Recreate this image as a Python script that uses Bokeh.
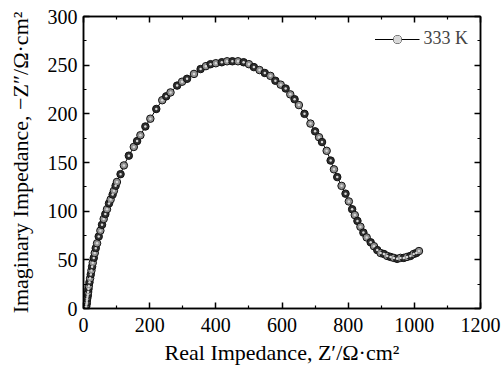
from bokeh.plotting import figure
from bokeh.models import (LinearAxis, Range1d, Legend, LegendItem, ColumnDataSource,
                          FixedTicker, CustomJSTickFormatter)
from bokeh.embed import file_html
from bokeh.resources import INLINE

# ---- data (Nyquist plot, 333 K) ----
z_real = [8, 9, 10, 10, 11, 12, 13, 14, 15, 16, 18, 20, 22, 24, 26, 28, 31, 34, 37, 41,
          46, 51, 56, 61, 66, 71, 77, 82, 88, 92, 97, 101, 112, 122, 137, 152, 162, 172,
          187, 202, 220, 238, 250, 263, 283, 298, 313, 334, 354, 370, 384, 400, 418, 434,
          450, 467, 484, 500, 515, 532, 548, 565, 580, 596, 611, 625, 638, 651, 668, 686,
          700, 712, 721, 735, 747, 757, 767, 780, 792, 802, 812, 820, 828, 837, 846, 856,
          868, 878, 888, 898, 908, 918, 928, 938, 948, 958, 968, 978, 988, 998, 1006, 1014]
z_imag = [2, 4, 6, 8, 10, 12, 14, 17, 20, 23, 27, 31, 35, 39, 43, 47, 52, 57, 62, 67,
          74, 80, 86, 92, 97, 102, 108, 112, 117, 121, 126, 130, 138, 147, 157, 166, 172, 178,
          187, 195, 205, 214, 218, 222, 229, 233, 236, 241, 246, 249, 251, 252, 253, 254,
          254, 254, 253, 251, 248, 245, 242, 239, 234, 230, 226, 220, 215, 209, 200, 190,
          182, 176, 171, 162, 152, 143, 135, 126, 118, 110, 102, 96, 90, 84, 78, 73,
          68, 64, 60, 57, 56, 54, 53, 52, 51, 52, 52, 53, 54, 56, 57, 59]
series_label = "333 K"
x_ticks = [0, 200, 400, 600, 800, 1000, 1200]
x_minor = [100, 300, 500, 700, 900, 1100]
y_ticks = [0, 50, 100, 150, 200, 250, 300]
y_minor = [25, 75, 125, 175, 225, 275]

FONT = "Liberation Serif"

fills = ["#2e2e2e" if i % 2 == 0 else "#8f8f8f" for i in range(len(z_real))]
src = ColumnDataSource(dict(x=z_real, y=z_imag, fill=fills))

p = figure(width=504, height=380, output_backend="svg", toolbar_location=None,
           x_range=Range1d(0, 1200), y_range=Range1d(0, 300),
           min_border_left=83, min_border_right=24, min_border_top=16, min_border_bottom=72,
           background_fill_color="white", border_fill_color="white")
p.xgrid.visible = False
p.ygrid.visible = False
p.outline_line_color = "black"
p.outline_line_width = 1.5

ln = p.line("x", "y", source=src, line_color="black", line_width=1)
sc = p.scatter("x", "y", source=src, size=7.5, fill_color="fill", line_color="#111111", line_width=1)
hl = p.scatter("x", "y", source=src, size=2.5, fill_color="#d8d8d8", line_alpha=0)

def style_axis(ax, ticks, minor, labels=True):
    ax.ticker = FixedTicker(ticks=ticks, minor_ticks=minor)
    ax.axis_line_color = "black"
    ax.axis_line_width = 1.5
    ax.major_tick_in = 6
    ax.major_tick_out = 0
    ax.minor_tick_in = 3
    ax.minor_tick_out = 0
    ax.major_tick_line_width = 1.5
    ax.minor_tick_line_width = 1.2
    ax.major_label_text_font = FONT
    ax.major_label_text_color = "black"
    ax.major_label_text_font_size = "20px"
    if not labels:
        ax.formatter = CustomJSTickFormatter(code="return ''")
        ax.major_label_standoff = 0

xa = p.xaxis[0]
ya = p.yaxis[0]
style_axis(xa, x_ticks, x_minor)
style_axis(ya, y_ticks, y_minor)
xa.major_label_standoff = 9
ya.major_label_standoff = 6

xa.axis_label = "Real Impedance, Z\u2032/\u03a9\u00b7cm\u00b2"
ya.axis_label = "Imaginary Impedance, \u2212Z\u2033/\u03a9\u00b7cm\u00b2"
for ax in (xa, ya):
    ax.axis_label_text_font = FONT
    ax.axis_label_text_font_size = "22px"
    ax.axis_label_text_font_style = "normal"
    ax.axis_label_text_color = "black"
xa.axis_label_standoff = 5
ya.axis_label_standoff = 12

top = LinearAxis()
right = LinearAxis()
style_axis(top, x_ticks, x_minor, labels=False)
style_axis(right, y_ticks, y_minor, labels=False)
p.add_layout(top, "above")
p.add_layout(right, "right")

legend = Legend(items=[LegendItem(label=series_label, renderers=[ln, sc, hl])],
                location="top_right", border_line_alpha=0, background_fill_alpha=0,
                glyph_width=45, glyph_height=20, label_standoff=4,
                label_text_font=FONT, label_text_font_size="18px",
                margin=8, padding=4)
p.add_layout(legend)

open("out.html", "w").write(file_html(p, INLINE))
